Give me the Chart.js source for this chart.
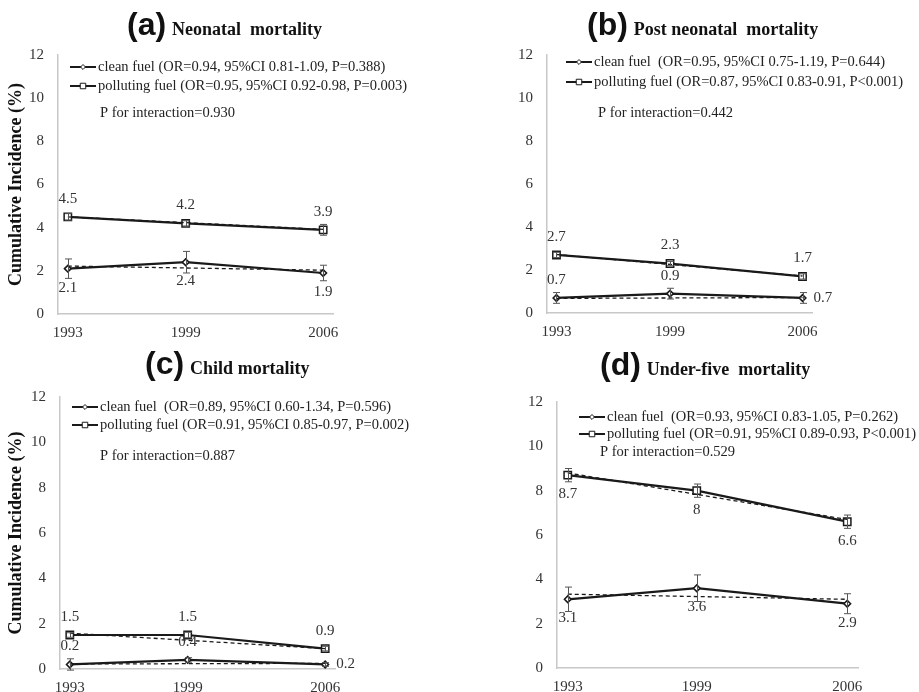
<!DOCTYPE html>
<html>
<head>
<meta charset="utf-8">
<script src="https://cdn.jsdelivr.net/npm/chart.js@4.4.1/dist/chart.umd.min.js"></script>
<style>
  html, body { margin: 0; padding: 0; background: #fff; }
  #page { position: relative; width: 919px; height: 692px; overflow: hidden; }
  #page canvas { position: absolute; }
</style>
</head>
<body>
<div id="page"></div>
<script>
// ---- data ----
const years = [1993, 1999, 2006];
const trendYears = [1993, 2006];
const yTickValues = [0, 2, 4, 6, 8, 10, 12];

const panelLetters = ['(a)', '(b)', '(c)', '(d)'];
const panelTitles = ['Neonatal  mortality', 'Post neonatal  mortality', 'Child mortality', 'Under-five  mortality'];
const cleanLegend = [
  'clean fuel (OR=0.94, 95%CI 0.81-1.09, P=0.388)',
  'clean fuel  (OR=0.95, 95%CI 0.75-1.19, P=0.644)',
  'clean fuel  (OR=0.89, 95%CI 0.60-1.34, P=0.596)',
  'clean fuel  (OR=0.93, 95%CI 0.83-1.05, P=0.262)'
];
const pollutingLegend = [
  'polluting fuel (OR=0.95, 95%CI 0.92-0.98, P=0.003)',
  'polluting fuel (OR=0.87, 95%CI 0.83-0.91, P<0.001)',
  'polluting fuel (OR=0.91, 95%CI 0.85-0.97, P=0.002)',
  'polluting fuel (OR=0.91, 95%CI 0.89-0.93, P<0.001)'
];
const interactionP = ['0.930', '0.442', '0.887', '0.529'];

// (a) neonatal
const cleanA = [2.1, 2.4, 1.9];
const cleanErrA = [0.45, 0.5, 0.36];
const pollA = [4.5, 4.2, 3.9];
const pollErrA = [0.15, 0.12, 0.25];
const cleanTrendA = [2.22, 2.03];
const pollTrendA = [4.5, 3.92];
// (b) post neonatal
const cleanB = [0.7, 0.9, 0.7];
const cleanErrB = [0.25, 0.25, 0.25];
const pollB = [2.7, 2.3, 1.7];
const pollErrB = [0.12, 0.1, 0.12];
const cleanTrendB = [0.68, 0.72];
const pollTrendB = [2.72, 1.72];
// (c) child
const cleanC = [0.2, 0.4, 0.2];
const cleanErrC = [0.25, 0.1, 0.08];
const pollC = [1.5, 1.5, 0.9];
const pollErrC = [0.1, 0.12, 0.1];
const cleanTrendC = [0.22, 0.25];
const pollTrendC = [1.58, 0.9];
// (d) under-five
const cleanD = [3.1, 3.6, 2.9];
const cleanErrD = [0.55, 0.6, 0.45];
const pollD = [8.7, 8, 6.6];
const pollErrD = [0.3, 0.3, 0.3];
const cleanTrendD = [3.33, 3.1];
const pollTrendD = [8.8, 6.7];

// ---- layout (canvas box, plot area, decorations) ----
const panels = [
  { box: { left: 0, top: 0, w: 460, h: 346 }, area: { l: 58, r: 333, t: 55, b: 314 }, xh: 28, yTitle: true,
    title: { x: 127, y: 35 }, legend: { x: 70, y1: 67, y2: 86, px: 100, py: 113 },
    clean: cleanA, cleanErr: cleanErrA, poll: pollA, pollErr: pollErrA, cleanTrend: cleanTrendA, pollTrend: pollTrendA,
    cleanPos: ['b', 'b', 'b'], pollPos: ['a', 'a', 'a'] },
  { box: { left: 460, top: 0, w: 459, h: 346 }, area: { l: 87, r: 352, t: 55, b: 313 }, xh: 28, yTitle: false,
    title: { x: 127, y: 35 }, legend: { x: 106, y1: 62, y2: 82, px: 138, py: 113 },
    clean: cleanB, cleanErr: cleanErrB, poll: pollB, pollErr: pollErrB, cleanTrend: cleanTrendB, pollTrend: pollTrendB,
    cleanPos: ['a', 'a', 'r'], pollPos: ['a', 'a', 'a'] },
  { box: { left: 0, top: 346, w: 460, h: 346 }, area: { l: 60, r: 335, t: 51, b: 323 }, xh: 23, yTitle: true,
    title: { x: 145, y: 28 }, legend: { x: 72, y1: 61, y2: 79, px: 100, py: 110 },
    clean: cleanC, cleanErr: cleanErrC, poll: pollC, pollErr: pollErrC, cleanTrend: cleanTrendC, pollTrend: pollTrendC,
    cleanPos: ['a', 'a', 'r'], pollPos: ['a', 'a', 'a'] },
  { box: { left: 460, top: 346, w: 459, h: 346 }, area: { l: 97, r: 398, t: 56, b: 322 }, xh: 24, yTitle: false,
    title: { x: 140, y: 29 }, legend: { x: 119, y1: 71, y2: 88, px: 140, py: 106 },
    clean: cleanD, cleanErr: cleanErrD, poll: pollD, pollErr: pollErrD, cleanTrend: cleanTrendD, pollTrend: pollTrendD,
    cleanPos: ['b', 'b', 'b'], pollPos: ['b', 'b', 'b'] }
];

const SERIF = '"Liberation Serif", "Times New Roman", serif';
const SANS = '"Liberation Sans", Arial, sans-serif';
const INK = '#1a1a1a';

const cleanPoint = { pointStyle: 'rectRot', radius: 3.3 };
const pollPoint = { pointStyle: 'rect', radius: 5.2 };

// error bars drawn through the y scale
const errorBars = {
  id: 'errorBars',
  afterDatasetsDraw(chart) {
    const { ctx, scales: { y } } = chart;
    chart.data.datasets.forEach((ds, i) => {
      if (!ds.errors) return;
      const meta = chart.getDatasetMeta(i);
      ctx.save();
      ctx.strokeStyle = '#555';
      ctx.lineWidth = 1;
      meta.data.forEach((pt, j) => {
        const v = ds.data[j].y, e = ds.errors[j];
        const y1 = y.getPixelForValue(v + e), y2 = y.getPixelForValue(v - e);
        const x = Math.round(pt.x) + 0.5;
        ctx.beginPath();
        ctx.moveTo(x, y1); ctx.lineTo(x, y2);
        ctx.moveTo(x - 3.5, y1); ctx.lineTo(x + 3.5, y1);
        ctx.moveTo(x - 3.5, y2); ctx.lineTo(x + 3.5, y2);
        ctx.stroke();
      });
      ctx.restore();
    });
  }
};

// value labels next to points
const valueLabels = {
  id: 'valueLabels',
  afterDatasetsDraw(chart) {
    const ctx = chart.ctx;
    chart.data.datasets.forEach((ds, i) => {
      if (!ds.labelPos) return;
      const meta = chart.getDatasetMeta(i);
      ctx.save();
      ctx.font = '15px ' + SERIF;
      ctx.fillStyle = '#333';
      ctx.textBaseline = 'middle';
      meta.data.forEach((pt, j) => {
        const p = ds.labelPos[j];
        let x = pt.x, yy = pt.y;
        ctx.textAlign = 'center';
        if (p === 'a') yy -= 18;
        else if (p === 'b') yy += 19;
        else { x += 11; ctx.textAlign = 'left'; }
        ctx.fillText(String(ds.data[j].y), x, yy);
      });
      ctx.restore();
    });
  }
};

// title + in-plot legend
const panelDecor = {
  id: 'panelDecor',
  afterDraw(chart, args, opts) {
    const ctx = chart.ctx;
    ctx.save();
    ctx.fillStyle = '#111';
    ctx.textBaseline = 'alphabetic';
    ctx.textAlign = 'left';
    ctx.font = 'bold 32px ' + SANS;
    ctx.fillText(opts.letter, opts.title.x, opts.title.y);
    const lw = ctx.measureText(opts.letter).width;
    ctx.font = 'bold 18px ' + SERIF;
    ctx.fillText(opts.text, opts.title.x + lw + 6, opts.title.y);

    const lg = opts.legend;
    const rows = [[lg.y1, opts.cleanLabel, cleanPoint], [lg.y2, opts.pollLabel, pollPoint]];
    rows.forEach(([yy, label, pt]) => {
      ctx.strokeStyle = INK;
      ctx.lineWidth = 2;
      ctx.beginPath();
      ctx.moveTo(lg.x, yy); ctx.lineTo(lg.x + 26, yy);
      ctx.stroke();
      ctx.fillStyle = '#fff';
      ctx.strokeStyle = INK;
      ctx.lineWidth = 1;
      Chart.helpers.drawPoint(ctx, { pointStyle: pt.pointStyle, radius: pt.radius * 0.75, rotation: 0, borderWidth: 1 }, lg.x + 13, yy);
      ctx.fillStyle = '#222';
      ctx.font = '14.5px ' + SERIF;
      ctx.textBaseline = 'middle';
      ctx.fillText(label, lg.x + 28, yy);
    });
    ctx.fillText('P for interaction=' + opts.p, lg.px, lg.py);
    ctx.restore();
  }
};

const page = document.getElementById('page');

panels.forEach((pn, k) => {
  const cv = document.createElement('canvas');
  cv.width = pn.box.w; cv.height = pn.box.h;
  cv.style.left = pn.box.left + 'px'; cv.style.top = pn.box.top + 'px';
  cv.style.width = pn.box.w + 'px'; cv.style.height = pn.box.h + 'px';
  page.appendChild(cv);

  const pts = vals => years.map((yr, i) => ({ x: yr, y: vals[i] }));
  const trend = vals => trendYears.map((yr, i) => ({ x: yr, y: vals[i] }));

  new Chart(cv.getContext('2d'), {
    type: 'line',
    data: {
      datasets: [
        { label: 'clean trend', data: trend(pn.cleanTrend), borderColor: INK, borderWidth: 1.3,
          borderDash: [4, 3], pointRadius: 0, fill: false },
        { label: 'polluting trend', data: trend(pn.pollTrend), borderColor: INK, borderWidth: 1.3,
          borderDash: [4, 3], pointRadius: 0, fill: false },
        { label: 'clean fuel', data: pts(pn.clean), errors: pn.cleanErr, labelPos: pn.cleanPos,
          borderColor: INK, borderWidth: 2.2, pointStyle: cleanPoint.pointStyle, pointRadius: cleanPoint.radius,
          pointBackgroundColor: '#fff', pointBorderColor: INK, pointBorderWidth: 1.6, fill: false },
        { label: 'polluting fuel', data: pts(pn.poll), errors: pn.pollErr, labelPos: pn.pollPos,
          borderColor: INK, borderWidth: 2.2, pointStyle: pollPoint.pointStyle, pointRadius: pollPoint.radius,
          pointBackgroundColor: '#fff', pointBorderColor: INK, pointBorderWidth: 1.5, fill: false }
      ]
    },
    options: {
      responsive: false,
      animation: false,
      devicePixelRatio: 1,
      layout: {
        padding: { left: 0, top: pn.area.t, right: pn.box.w - pn.area.r, bottom: Math.max(0, pn.box.h - pn.area.b - pn.xh) }
      },
      plugins: {
        legend: { display: false },
        tooltip: { enabled: false },
        panelDecor: {
          letter: panelLetters[k], text: panelTitles[k], title: pn.title, legend: pn.legend,
          cleanLabel: cleanLegend[k], pollLabel: pollutingLegend[k], p: interactionP[k]
        }
      },
      scales: {
        x: {
          type: 'linear', min: 1992.5, max: 2006.5,
          afterBuildTicks: s => { s.ticks = years.map(v => ({ value: v })); },
          afterFit: s => { s.height = pn.xh; },
          grid: { display: false, drawTicks: false },
          border: { display: true, color: '#c8c8c8', width: 1.5 },
          ticks: { autoSkip: false, maxRotation: 0, padding: 10, color: '#333',
            font: { family: SERIF, size: 15 }, callback: v => String(v) }
        },
        y: {
          min: 0, max: 12,
          afterBuildTicks: s => { s.ticks = yTickValues.map(v => ({ value: v })); },
          afterFit: s => { s.width = pn.area.l; },
          grid: { display: false, drawTicks: false },
          border: { display: true, color: '#c8c8c8', width: 1.5 },
          ticks: { padding: 14, color: '#333', font: { family: SERIF, size: 15 } },
          title: { display: pn.yTitle, text: 'Cumulative Incidence (%)', color: '#111',
            font: { family: SERIF, size: 18, weight: 'bold' }, padding: { top: 6 } }
        }
      }
    },
    plugins: [errorBars, valueLabels, panelDecor]
  });
});
</script>
</body>
</html>
